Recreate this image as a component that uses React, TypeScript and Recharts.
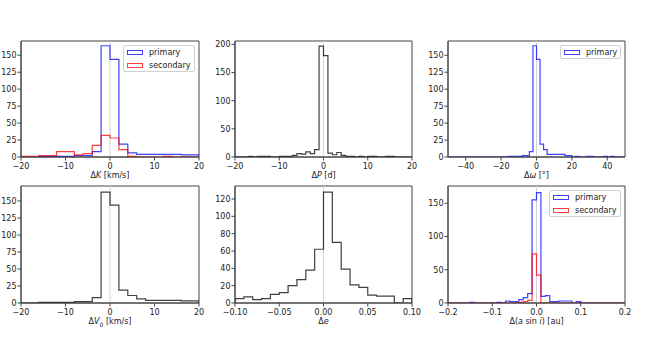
import React from "react";
import { LineChart, Line, XAxis, YAxis, ReferenceLine, ReferenceArea, Legend } from "recharts";

// histogram counts
// ΔK: bins of 2 km/s from -20
const dKPrimary = [0, 0, 1, 1, 1, 1, 2, 2, 8, 164, 144, 19, 6, 4, 4, 4, 4, 4, 3, 3];
const dKSecondary = [1, 1, 2, 2, 8, 8, 3, 5, 17, 32, 28, 11, 1, 0, 0, 0, 1, 0, 0, 0];
// ΔP: bins of 1 d from -20
const dP = [
  0, 0, 0, 1, 0, 1, 1, 1, 0, 0, 1, 1, 1, 3, 6, 5, 9, 6, 13, 197,
  180, 7, 4, 8, 3, 1, 1, 0, 1, 0, 1, 1, 0, 0, 1, 1, 0, 0, 0, 0,
];
// Δω: bins of 2 deg from -50
const dOmega = [
  0, 0, 0, 0, 0, 0, 0, 0, 0, 0, 0, 0, 0, 0, 0, 0, 0, 1, 1, 1, 1, 2, 2, 8, 164,
  144, 19, 11, 4, 4, 4, 4, 4, 2, 2, 0, 1, 0, 0, 1, 1, 0, 0, 0, 1, 0, 1, 0, 0, 0,
];
// ΔV0: bins of 2 km/s from -20
const dV0 = [0, 0, 1, 1, 1, 1, 2, 2, 8, 163, 144, 19, 11, 6, 4, 4, 4, 4, 3, 3];
// Δe: bins of 0.01 from -0.1
const dE = [5, 7, 4, 5, 10, 12, 20, 27, 38, 62, 128, 70, 39, 21, 18, 9, 8, 8, 0, 5];
// Δ(a sin i): bins of 0.01 au from -0.2
const dAsiniPrimary = [
  0, 0, 0, 0, 0, 1, 0, 0, 0, 0, 0, 1, 0, 3, 2, 2, 5, 8, 14, 155,
  166, 10, 11, 2, 2, 3, 3, 3, 0, 2, 0, 0, 0, 0, 0, 0, 0, 0, 0, 0,
];
const dAsiniSecondary = [
  0, 0, 0, 0, 0, 0, 0, 0, 0, 0, 0, 0, 0, 0, 0, 0, 1, 2, 4, 74,
  42, 0, 0, 0, 0, 0, 0, 0, 0, 0, 0, 0, 0, 0, 0, 0, 0, 0, 0, 0,
];

const FONT = "'DejaVu Sans', sans-serif";
const BLUE = "#0000ff";
const RED = "#ff0000";
const BLACK = "#000000";

// outline of a step histogram
function steps(start: number, width: number, counts: number[]) {
  const pts = [{ x: start, y: 0 }];
  counts.forEach((c, i) => pts.push({ x: start + i * width, y: c }));
  pts.push({ x: start + counts.length * width, y: 0 });
  return pts;
}

const minus = (s: string) => s.replace("-", "\u2212");

type Series = { name: string; color: string; data: { x: number; y: number }[] };

function LegendBox({ items, width }: { items: Series[]; width: number }) {
  return (
    <div
      style={{
        width,
        height: items.length * 13.3 + 0.5,
        border: "1px solid #d0d0d0",
        borderRadius: 2,
        background: "rgba(255,255,255,0.8)",
        boxSizing: "border-box",
        position: "relative",
        fontFamily: FONT,
        fontSize: 8,
        color: "#222",
      }}
    >
      {items.map((s, i) => (
        <div key={s.name} style={{ position: "absolute", left: 0, top: 1 + i * 13.3, height: 11, width: "100%" }}>
          <div
            style={{
              position: "absolute",
              left: 3,
              top: 2.5,
              width: 16,
              height: 5.5,
              border: `1px solid ${s.color}`,
              opacity: 0.75,
              boxSizing: "border-box",
            }}
          />
          <span style={{ position: "absolute", left: 25, top: 0, lineHeight: "11px", whiteSpace: "nowrap" }}>{s.name}</span>
        </div>
      ))}
    </div>
  );
}

function Panel(props: {
  left: number;
  top: number;
  w: number;
  h: number;
  xDomain: [number, number];
  xTicks: number[];
  xFmt: (v: number) => string;
  yMax: number;
  yTicks: number[];
  series: Series[];
  label: React.ReactNode;
  legend?: number;
}) {
  const { left, top, w, h, xDomain, xTicks, xFmt, yMax, yTicks, series, label, legend } = props;
  const tick = { fontSize: 8, fill: "#222", fontFamily: FONT };
  return (
    <div style={{ position: "absolute", left: left - 20, top: top - 5 }}>
      <LineChart width={w + 32} height={h + 35} margin={{ top: 5, right: 12, bottom: 0, left: 0 }}>
        <XAxis
          type="number"
          dataKey="x"
          domain={xDomain}
          ticks={xTicks}
          interval={0}
          allowDataOverflow
          height={30}
          tickSize={3.5}
          tickMargin={2.5}
          tick={tick}
          stroke="#444"
          tickFormatter={xFmt}
        />
        <YAxis
          type="number"
          domain={[0, yMax]}
          ticks={yTicks}
          interval={0}
          allowDataOverflow
          width={20}
          tickSize={3.5}
          tickMargin={1}
          tick={tick}
          stroke="#444"
        />
        <ReferenceLine x={0} stroke="#d3d3d3" strokeWidth={1} />
        {series.map((s) => (
          <Line
            key={s.name}
            data={s.data}
            dataKey="y"
            type="stepAfter"
            stroke={s.color}
            strokeOpacity={0.75}
            strokeWidth={1.2}
            dot={false}
            activeDot={false}
            isAnimationActive={false}
          />
        ))}
        <ReferenceArea
          x1={xDomain[0]}
          x2={xDomain[1]}
          y1={0}
          y2={yMax}
          fill="none"
          stroke="#444"
          strokeWidth={1}
          ifOverflow="visible"
        />
        {legend ? (
          <Legend
            layout="vertical"
            align="center"
            verticalAlign="middle"
            wrapperStyle={{ left: 20 + w - 4 - legend, top: 9, width: legend, height: "auto" }}
            content={() => <LegendBox items={series} width={legend} />}
          />
        ) : null}
      </LineChart>
      <div
        style={{
          position: "absolute",
          left: 20,
          width: w,
          top: 5 + h + 13.5,
          textAlign: "center",
          fontFamily: FONT,
          fontSize: 8,
          lineHeight: "10px",
          color: "#222",
          whiteSpace: "nowrap",
        }}
      >
        {label}
      </div>
    </div>
  );
}

const kmsTicks = [-20, -10, 0, 10, 20];
const fmtInt = (v: number) => minus(String(v));

export default function App() {
  return (
    <div style={{ position: "absolute", left: 0, top: 0, width: 646, height: 341, background: "#fff" }}>
      <Panel
        left={21}
        top={41}
        w={178}
        h={116}
        xDomain={[-20, 20]}
        xTicks={kmsTicks}
        xFmt={fmtInt}
        yMax={171}
        yTicks={[0, 25, 50, 75, 100, 125, 150]}
        series={[
          { name: "primary", color: BLUE, data: steps(-20, 2, dKPrimary) },
          { name: "secondary", color: RED, data: steps(-20, 2, dKSecondary) },
        ]}
        legend={72}
        label={<span>Δ<i>K</i> [km/s]</span>}
      />
      <Panel
        left={235}
        top={41}
        w={177}
        h={116}
        xDomain={[-20, 20]}
        xTicks={kmsTicks}
        xFmt={fmtInt}
        yMax={206}
        yTicks={[0, 50, 100, 150, 200]}
        series={[{ name: "dP", color: BLACK, data: steps(-20, 1, dP) }]}
        label={<span>Δ<i>P</i> [d]</span>}
      />
      <Panel
        left={448}
        top={41}
        w={177}
        h={116}
        xDomain={[-50, 50]}
        xTicks={[-40, -20, 0, 20, 40]}
        xFmt={fmtInt}
        yMax={171}
        yTicks={[0, 25, 50, 75, 100, 125, 150]}
        series={[{ name: "primary", color: BLUE, data: steps(-50, 2, dOmega) }]}
        legend={61}
        label={<span>Δ<i>ω</i> [°]</span>}
      />
      <Panel
        left={21}
        top={186}
        w={178}
        h={117}
        xDomain={[-20, 20]}
        xTicks={kmsTicks}
        xFmt={fmtInt}
        yMax={172}
        yTicks={[0, 25, 50, 75, 100, 125, 150]}
        series={[{ name: "dV0", color: BLACK, data: steps(-20, 2, dV0) }]}
        label={
          <span>
            Δ<i>V</i>
            <sub style={{ fontSize: 6 }}>0</sub> [km/s]
          </span>
        }
      />
      <Panel
        left={235}
        top={186}
        w={177}
        h={117}
        xDomain={[-0.1, 0.1]}
        xTicks={[-0.1, -0.05, 0, 0.05, 0.1]}
        xFmt={(v) => minus(v.toFixed(2))}
        yMax={135}
        yTicks={[0, 20, 40, 60, 80, 100, 120]}
        series={[{ name: "de", color: BLACK, data: steps(-0.1, 0.01, dE) }]}
        label={<span>Δ<i>e</i></span>}
      />
      <Panel
        left={448}
        top={186}
        w={177}
        h={117}
        xDomain={[-0.2, 0.2]}
        xTicks={[-0.2, -0.1, 0, 0.1, 0.2]}
        xFmt={(v) => minus(v.toFixed(1))}
        yMax={176}
        yTicks={[0, 50, 100, 150]}
        series={[
          { name: "primary", color: BLUE, data: steps(-0.2, 0.01, dAsiniPrimary) },
          { name: "secondary", color: RED, data: steps(-0.2, 0.01, dAsiniSecondary) },
        ]}
        legend={72}
        label={
          <span>
            Δ(<i>a</i> sin <i>i</i>) [au]
          </span>
        }
      />
    </div>
  );
}
